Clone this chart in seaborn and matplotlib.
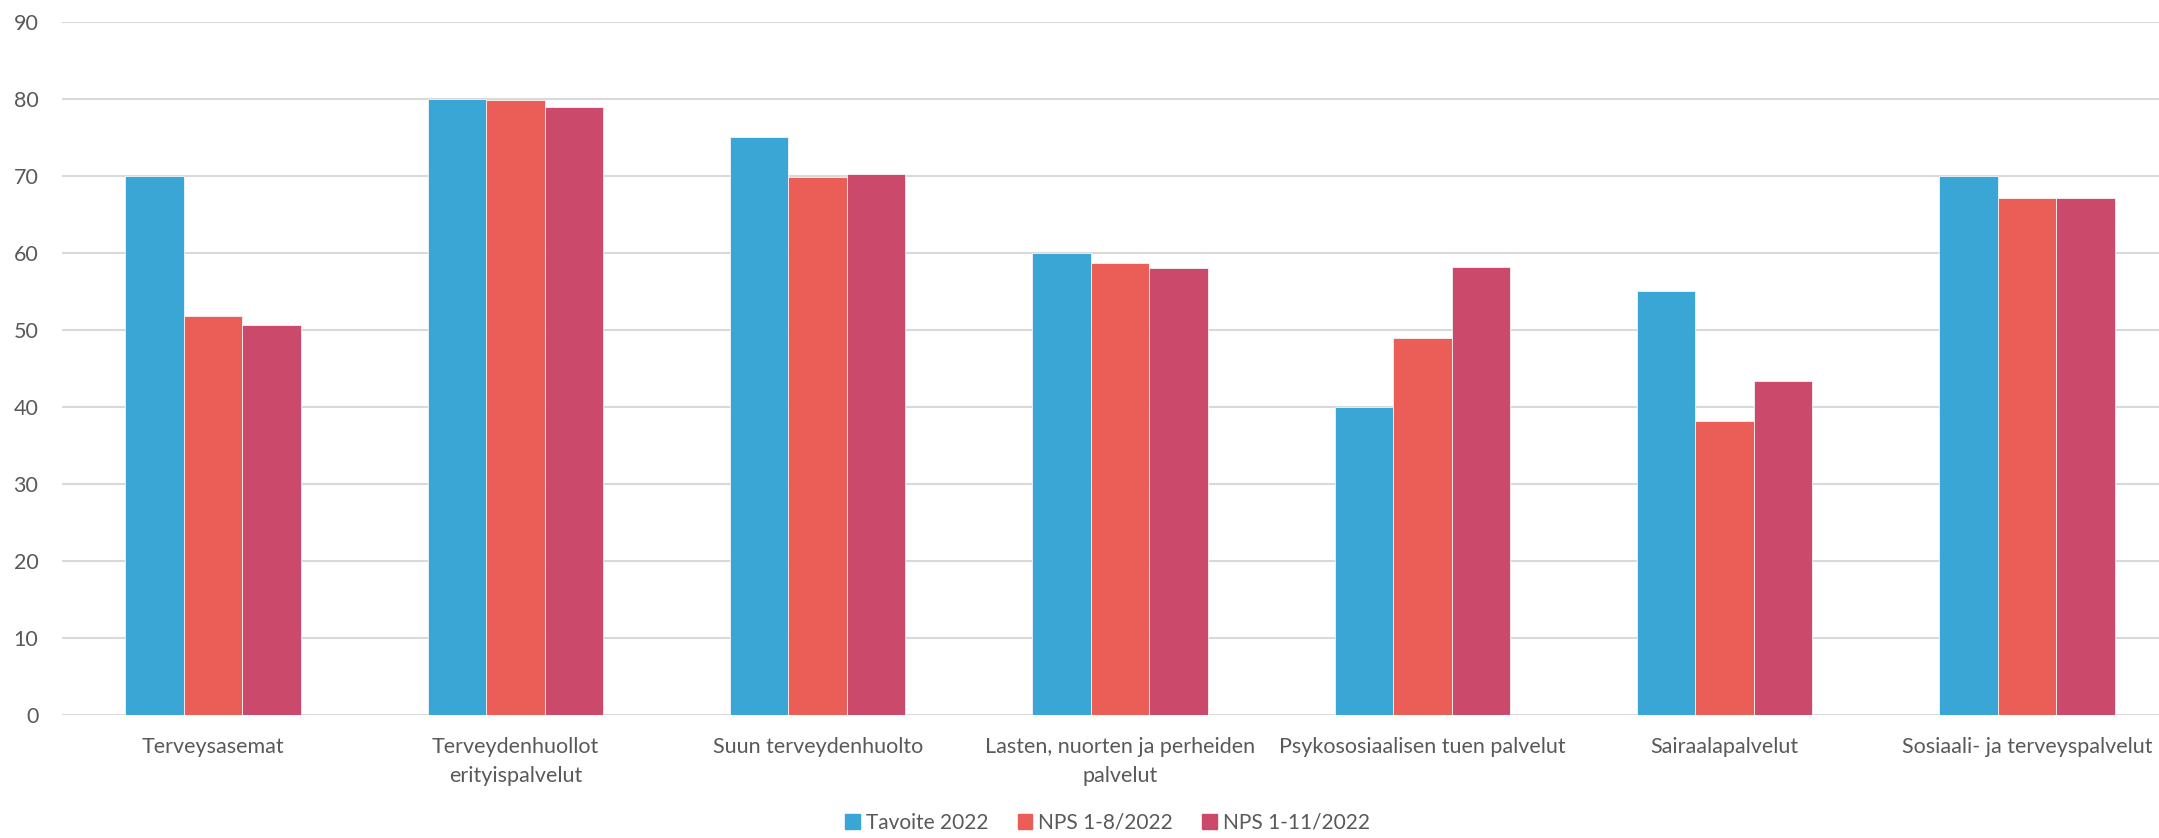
import numpy as np
import pandas as pd
import matplotlib.pyplot as plt
import seaborn as sns

categories = [
    "Terveysasemat",
    "Terveydenhuollot\nerityispalvelut",
    "Suun terveydenhuolto",
    "Lasten, nuorten ja perheiden\npalvelut",
    "Psykososiaalisen tuen palvelut",
    "Sairaalapalvelut",
    "Sosiaali- ja terveyspalvelut",
]
series = ["Tavoite 2022", "NPS 1-8/2022", "NPS 1-11/2022"]
tavoite = [70, 80, 75, 60, 40, 55, 70]
nps_1_8 = [51.8, 79.9, 69.9, 58.7, 48.9, 38.2, 67.2]
nps_1_11 = [50.7, 78.9, 70.2, 58.1, 58.2, 43.4, 67.1]
colors = ["#3AA6D6", "#EB5E57", "#CB4A6C"]

df = pd.DataFrame({
    "kategoria": categories * 3,
    "sarja": np.repeat(series, len(categories)),
    "arvo": tavoite + nps_1_8 + nps_1_11,
})

sns.set_theme(style="white")
plt.rcParams["font.family"] = ["Lato", "DejaVu Sans"]
text_color = "#595959"

fig = plt.figure(figsize=(21.59, 8.38), dpi=100)
ax = fig.add_axes([62 / 2159, 123 / 838, (2178 - 62) / 2159, (715 - 22) / 838])

sns.barplot(data=df, x="kategoria", y="arvo", hue="sarja", palette=colors,
            width=0.58, saturation=1, linewidth=0.6, edgecolor="#F3F3F3",
            ax=ax, legend=True, zorder=3)

ax.set_ylim(0, 90)
ax.set_yticks(np.arange(0, 91, 10))
ax.set_xlim(-0.5, len(categories) - 0.5)
ax.grid(axis="y", color="#D9D9D9", linewidth=1.5, zorder=0)
ax.set_axisbelow(True)
for s in ax.spines.values():
    s.set_visible(False)
ax.set_xlabel("")
ax.set_ylabel("")
ax.tick_params(axis="y", length=0, pad=17, labelsize=15.5, labelcolor=text_color)
ax.tick_params(axis="x", length=0, pad=16, labelsize=15.5, labelcolor=text_color)
for lbl in ax.get_xticklabels():
    lbl.set_linespacing(1.55)

ax.get_legend().remove()
handles = [plt.Rectangle((0, 0), 1, 1, color=c) for c in colors]
fig.legend(handles, series, loc="lower center", bbox_to_anchor=(0.513, -0.006),
           ncol=3, frameon=False, fontsize=15, labelcolor=text_color,
           borderpad=0, handlelength=0.7, handleheight=0.7,
           handletextpad=0.3, columnspacing=1.4)

fig.savefig("out.png", dpi=100)
